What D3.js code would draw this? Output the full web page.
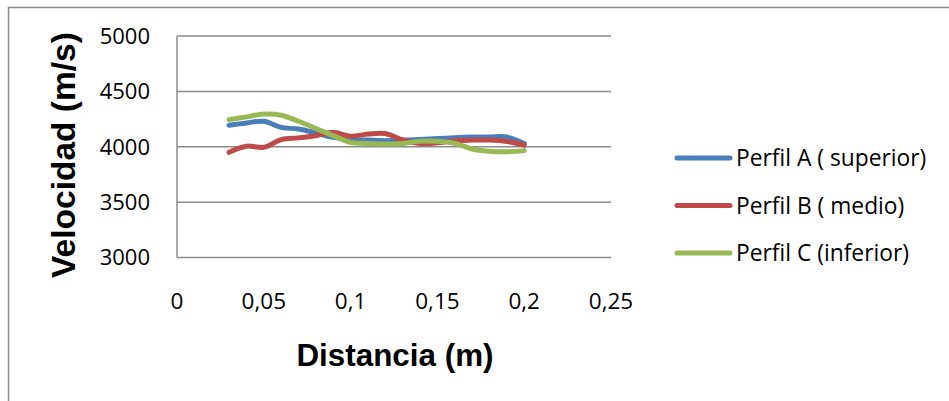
<!DOCTYPE html>
<html>
<head>
<meta charset="utf-8">
<script src="https://cdn.jsdelivr.net/npm/d3@7"></script>
<style>
  html, body { margin: 0; padding: 0; background: #fff; }
  svg { display: block; }
</style>
</head>
<body>
<svg id="chart" width="949" height="401"></svg>
<script>
// Distance along the specimen (m)
const distancia = [0.03, 0.04, 0.05, 0.06, 0.07, 0.08, 0.09, 0.10, 0.11, 0.12,
                   0.13, 0.14, 0.15, 0.16, 0.17, 0.18, 0.19, 0.20];
// Pulse velocity per profile (m/s)
const perfilA = [4195, 4215, 4230, 4175, 4160, 4125, 4085, 4065, 4060, 4055,
                 4060, 4065, 4075, 4082, 4087, 4088, 4088, 4030];
const perfilB = [3950, 4005, 3995, 4065, 4080, 4100, 4130, 4095, 4115, 4120,
                 4060, 4030, 4035, 4055, 4060, 4060, 4048, 4015];
const perfilC = [4245, 4270, 4295, 4285, 4230, 4165, 4100, 4040, 4030, 4025,
                 4030, 4050, 4050, 4030, 3980, 3960, 3955, 3965];

const seriesNames = ["Perfil A ( superior)", "Perfil B ( medio)", "Perfil C (inferior)"];
const seriesColors = ["#4A7EBB", "#BE4B48", "#98B954"];
const xTicks = [0, 0.05, 0.1, 0.15, 0.2, 0.25];
const yTicks = [3000, 3500, 4000, 4500, 5000];

const svg = d3.select("#chart");
const font = "'Open Sans', 'Liberation Sans', sans-serif";
const boldFont = "'Liberation Sans', Arial, sans-serif";

// Outer chart border
svg.append("path")
  .attr("d", "M8.5,401 L8.5,7.5 L949,7.5")
  .attr("fill", "none").attr("stroke", "#8c8c8c").attr("stroke-width", 1.5);

const plot = { left: 177, right: 611, top: 36, bottom: 257.5 };

const x = d3.scaleLinear().domain([0, 0.25]).range([plot.left, plot.right]);
const y = d3.scaleLinear().domain([3000, 5000]).range([plot.bottom, plot.top]);

// Horizontal gridlines
svg.append("g").selectAll("line").data(yTicks).join("line")
  .attr("x1", plot.left).attr("x2", plot.right)
  .attr("y1", d => y(d)).attr("y2", d => y(d))
  .attr("stroke", "#8c8c8c").attr("stroke-width", 1.5);

// Vertical axis line
svg.append("line")
  .attr("x1", plot.left).attr("x2", plot.left)
  .attr("y1", plot.top).attr("y2", plot.bottom)
  .attr("stroke", "#8c8c8c").attr("stroke-width", 1.5);

const fmt = d => String(d).replace(".", ",");

// Y tick labels
svg.append("g").selectAll("text").data(yTicks).join("text")
  .attr("x", 150).attr("y", d => y(d))
  .attr("dy", "0.36em")
  .attr("text-anchor", "end")
  .attr("font-family", font).attr("font-size", 22).attr("fill", "#000")
  .text(d => d);

// X tick labels
svg.append("g").selectAll("text").data(xTicks).join("text")
  .attr("x", d => x(d)).attr("y", 301)
  .attr("dy", "0.36em")
  .attr("text-anchor", "middle")
  .attr("font-family", font).attr("font-size", 22.5).attr("fill", "#000")
  .text(d => fmt(d));

// Axis titles
svg.append("text")
  .attr("transform", "translate(63,155) rotate(-90)")
  .attr("dy", "0.36em")
  .attr("text-anchor", "middle")
  .attr("font-family", boldFont).attr("font-weight", "bold").attr("font-size", 33.5)
  .text("Velocidad (m/s)");

svg.append("text")
  .attr("x", 395).attr("y", 355)
  .attr("dy", "0.36em")
  .attr("text-anchor", "middle")
  .attr("font-family", boldFont).attr("font-weight", "bold").attr("font-size", 31.4)
  .text("Distancia (m)");

// Smoothed series lines
const line = d3.line()
  .x((d, i) => x(distancia[i]))
  .y(d => y(d))
  .curve(d3.curveCatmullRom.alpha(0.5));

const series = [perfilA, perfilB, perfilC];
svg.append("g").selectAll("path").data(series).join("path")
  .attr("d", d => line(d))
  .attr("fill", "none")
  .attr("stroke", (d, i) => seriesColors[i])
  .attr("stroke-width", 5)
  .attr("stroke-linecap", "round")
  .attr("stroke-linejoin", "round");

// Legend
const legend = svg.append("g").selectAll("g").data(seriesNames).join("g")
  .attr("transform", (d, i) => `translate(0,${158 + i * 47.5})`);
legend.append("line")
  .attr("x1", 677).attr("x2", 730).attr("y1", 0).attr("y2", 0)
  .attr("stroke", (d, i) => seriesColors[i])
  .attr("stroke-width", 5).attr("stroke-linecap", "round");
legend.append("text")
  .attr("x", 736).attr("y", 0).attr("dy", "0.36em")
  .attr("font-family", font).attr("font-size", 22.8).attr("fill", "#000")
  .text(d => d);
</script>
</body>
</html>
